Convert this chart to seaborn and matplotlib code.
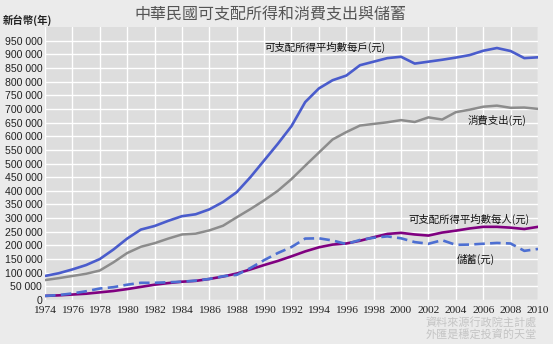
import numpy as np
import pandas as pd
import matplotlib
matplotlib.use("Agg")
import matplotlib.pyplot as plt
import seaborn as sns

years = list(range(1974, 2011))
income_household = [88, 98, 112, 128, 150, 185, 225, 258, 271, 290, 307, 314, 332, 359, 395, 450,
                    511, 572, 637, 725, 775, 805, 822, 860, 873, 886, 891, 866, 873, 880, 888,
                    897, 913, 923, 912, 886, 889]
consumption = [73, 80, 88, 96, 108, 138, 172, 195, 208, 225, 240, 243, 255, 272, 303, 333,
               365, 400, 443, 492, 540, 588, 615, 639, 645, 651, 659, 652, 669, 661, 688,
               697, 708, 712, 704, 705, 700]
savings = [15, 18, 24, 32, 42, 47, 56, 63, 63, 65, 67, 71, 77, 87, 92, 117,
           146, 172, 194, 225, 226, 218, 205, 220, 228, 233, 226, 212, 206, 219, 202,
           203, 206, 209, 207, 180, 187]
income_person = [15, 17, 20, 23, 28, 33, 40, 48, 56, 62, 67, 70, 77, 86, 97, 112,
                 128, 143, 160, 178, 193, 203, 207, 217, 230, 242, 246, 240, 236, 247, 254,
                 262, 268, 268, 265, 260, 268]

title = "中華民國可支配所得和消費支出與儲蓄"
ylabel = "新台幣(年)"
labels = ["可支配所得平均數每戶(元)", "消費支出(元)", "可支配所得平均數每人(元)", "儲蓄(元)"]
footer = ["資料來源行政院主計處", "外匯是穩定投資的天堂"]

df = pd.DataFrame({
    "year": years,
    "income_household": np.array(income_household) * 1000,
    "consumption": np.array(consumption) * 1000,
    "savings": np.array(savings) * 1000,
    "income_person": np.array(income_person) * 1000,
})

sns.set_style("whitegrid")
plt.rcParams['font.family'] = ['Noto Sans CJK TC', 'DejaVu Sans']

fig = plt.figure(figsize=(5.53, 3.44), dpi=100, facecolor="#ebebeb")
ax = fig.add_axes([45/553, 1 - 300/344, (538 - 45)/553, (300 - 27)/344])
ax.set_facecolor("#dddddd")

sns.lineplot(data=df, x="year", y="consumption", ax=ax, color="#8c8c8c", linewidth=1.8)
sns.lineplot(data=df, x="year", y="income_household", ax=ax, color="#4a5ccc", linewidth=1.9)
sns.lineplot(data=df, x="year", y="income_person", ax=ax, color="#800080", linewidth=1.9)
sns.lineplot(data=df, x="year", y="savings", ax=ax, color="#4d6fd2", linewidth=1.9,
             linestyle=(0, (4, 2)))

ax.set_xlim(1974, 2010)
ax.set_ylim(0, 1000000)
ax.set_xticks(range(1974, 2011, 2))
ax.set_xticklabels([str(y) for y in range(1974, 2011, 2)], family="Liberation Serif", fontsize=8.2, color="#222222")
yt = list(range(0, 950001, 50000))
ax.set_yticks(yt)
ax.set_yticklabels([("{:,}".format(v).replace(",", " ")) for v in yt], family="Liberation Sans", fontsize=7.6, color="#222222")
ax.tick_params(axis="both", length=0, pad=2)
ax.tick_params(axis="x", pad=4)
ax.grid(True, color="white", linewidth=1.0)
for s in ax.spines.values():
    s.set_visible(False)
ax.set_xlabel("")
ax.set_ylabel("")

fig.text(270/553, 1 - 14/344, title, ha="center", va="center", fontsize=11.5, color="#555555")
fig.text(3/553, 1 - 20/344, ylabel, ha="left", va="center", fontsize=7.5, fontweight="bold", color="#222222")

fig.text(325/553, 1 - 47/344, labels[0], ha="center", va="center", fontsize=7.5, color="#111111")
fig.text(497/553, 1 - 120/344, labels[1], ha="center", va="center", fontsize=7.5, color="#111111")
fig.text(469/553, 1 - 219/344, labels[2], ha="center", va="center", fontsize=7.5, color="#111111")
fig.text(476/553, 1 - 259/344, labels[3], ha="center", va="center", fontsize=7.5, color="#111111")

fig.text(481/553, 1 - 322/344, footer[0], ha="center", va="center", fontsize=8, color="#c4c4c4")
fig.text(481/553, 1 - 334/344, footer[1], ha="center", va="center", fontsize=8, color="#c4c4c4")

fig.savefig("out.png", dpi=100, facecolor=fig.get_facecolor())
